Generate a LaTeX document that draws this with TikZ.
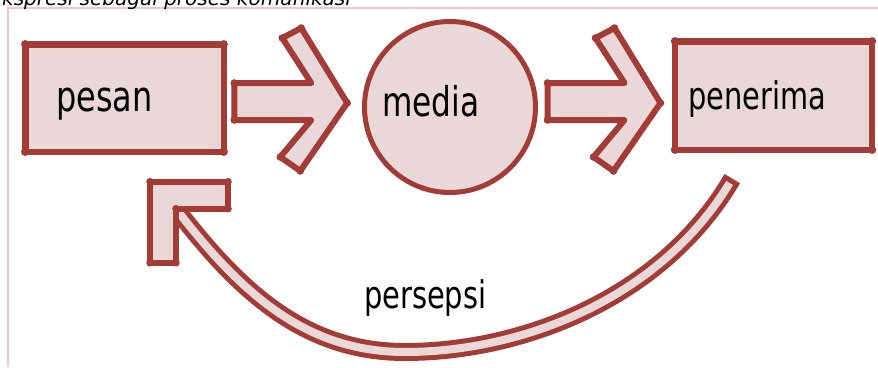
\documentclass[tikz,border=0pt]{standalone}
\usepackage{fontspec}
\setmainfont{DejaVu Sans}
\newfontfamily\labelfont[FakeStretch=0.76]{DejaVu Sans}
\usetikzlibrary{calc}
\definecolor{inkred}{RGB}{163,60,55}
\definecolor{paper}{RGB}{234,216,216}
\definecolor{framepink}{RGB}{240,200,200}
\tikzset{
  box/.style={rectangle,draw=inkred,fill=paper,line width=6.5pt,outer sep=0pt},
  ball/.style={circle,draw=inkred,fill=paper,line width=5pt,outer sep=0pt,minimum size=171pt},
  lbl/.style={anchor=base west,inner sep=0pt,font=\labelfont\fontsize{#1}{#1}\selectfont},
  arrowbody/.style={draw=inkred,fill=paper,line width=6pt,line join=round},
  feedback/.style={draw=inkred,line width=5pt,double=paper,double distance=8pt},
  inkdot/.style={fill=inkred},
  frameline/.style={draw=framepink,line width=1.2pt},
  blockarrow/.pic={
    \draw[arrowbody] (0,-18) -- (77,-18) -- (48,-63) -- (67,-73) -- (113,2)
      -- (66,70) -- (46,56) -- (77,19) -- (0,19) -- cycle;
    \foreach \a/\b in {0/-18,0/19,48/-63,67/-73,113/2,66/70,46/56}
      \fill[inkdot] (\a,\b) circle (3.8pt);
  }
}

\begin{document}
\begin{tikzpicture}[x=1pt,y=-1pt]
  \useasboundingbox (0,0) rectangle (878,367);
  \draw[frameline] (8,367) -- (8,8) -- (878,8);
  \node[font=\itshape\fontsize{20pt}{24pt}\selectfont,anchor=base west] (caption) at (-14,5)
    {Ekspresi sebagai proses komunikasi};

  % the three stations
  \node[box,minimum width=198.5pt,minimum height=107.5pt] (pesan) at (124.5,98) {};
  \node[ball] (media) at (450,107) {};
  \node[box,minimum width=197pt,minimum height=108.5pt] (penerima) at (773.5,95.5) {};
  \foreach \n in {pesan,penerima}
    \foreach \c in {north west,north east,south west,south east}
      \fill[inkdot] (\n.\c) circle (4.2pt);
  \node[lbl=42pt] (pesanlbl) at (56,111.5) {pesan};
  \node[lbl=41pt] (medialbl) at (382,116.5) {media};
  \node[lbl=38pt] (penerimalbl) at (688,109) {penerima};

  % block arrows
  \pic at ($(pesan.east)+(10.5,3)$) {blockarrow};
  \pic at ($(media.east)+(12,-6)$) {blockarrow};

  % feedback arrow
  \coordinate (fbs) at ($(penerima.south west)+(56,31)$);
  \coordinate (fbe) at ($(pesan.south)+(51.5,57)$);
  \draw[feedback] (fbs) .. controls (660,300) and (520,352) .. (405,352)
    .. controls (305,352) and (240,292) .. (fbe);
  \draw[inkred,line width=5pt] ($(fbs)!9pt!90:(660,300)$) -- ($(fbs)!9pt!-90:(660,300)$);
  \draw[arrowbody] (fbe) -- ++(52,0) -- ++(0,-27) -- ++(-78,0) -- ++(0,81) -- ++(26,0) -- cycle;
  \foreach \a/\b in {0/0,52/0,52/-27,-26/-27,-26/54,0/54}
    \fill[inkdot] ($(fbe)+(\a,\b)$) circle (3.8pt);
  \node[lbl=38pt] (persepsi) at (364,308) {persepsi};
\end{tikzpicture}
\end{document}
